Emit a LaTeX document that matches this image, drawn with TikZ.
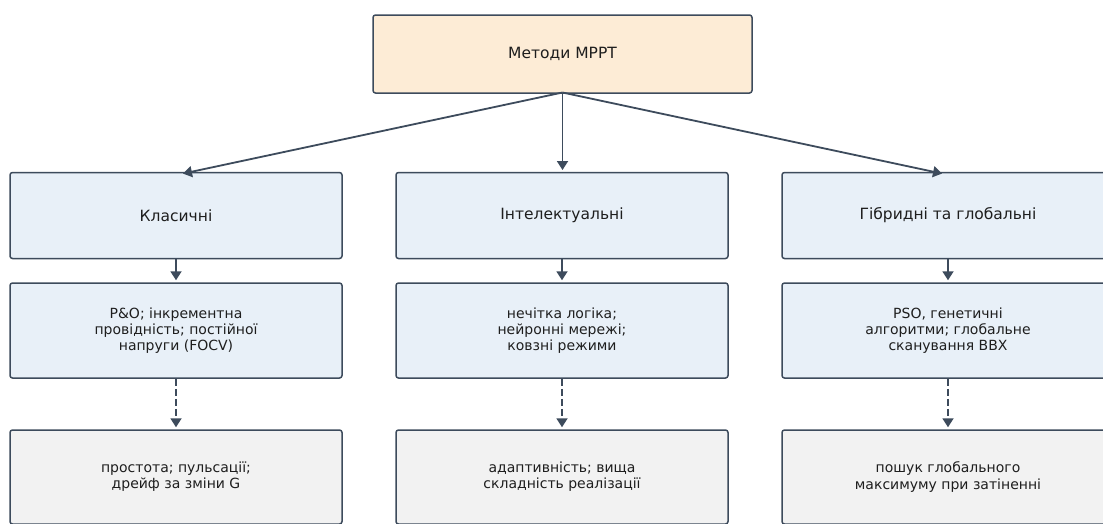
\documentclass[tikz,border=0pt]{standalone}
\usepackage{fontspec}
\setmainfont{DejaVu Sans}
\usetikzlibrary{arrows.meta}
\definecolor{edgec}{HTML}{3D4B5C}
\definecolor{topfill}{HTML}{FDECD6}
\definecolor{bluefill}{HTML}{E8F0F8}
\definecolor{grayfill}{HTML}{F2F2F2}
\definecolor{txt}{HTML}{1E1E1E}
\tikzset{
  box/.style={draw=edgec, line width=1.5pt, rounded corners=2.5pt, align=center, text=txt, inner sep=0pt},
  topbox/.style={box, fill=topfill, minimum width=379pt, minimum height=78pt, font=\fontsize{15.5}{18}\selectfont},
  headbox/.style={box, fill=bluefill, minimum width=332pt, minimum height=86pt, font=\fontsize{15.5}{18}\selectfont},
  midbox/.style={box, fill=bluefill, minimum width=332pt, minimum height=95pt, font=\fontsize{14}{16.2}\selectfont},
  botbox/.style={box, fill=grayfill, minimum width=332pt, minimum height=94pt, font=\fontsize{14}{16.2}\selectfont},
  conn/.style={draw=edgec, line width=1.8pt, shorten >=2pt, -{Triangle[length=9pt,width=11pt]}},
  dconn/.style={conn, dash pattern=on 7pt off 3pt},
}
\begin{document}
\begin{tikzpicture}[x=1pt,y=-1pt]
\useasboundingbox (0,0) rectangle (1103,523);
\clip (0,0) rectangle (1103,523);
\fill[white] (0,0) rectangle (1103,523);
\node[topbox] (top) at (562.5,54) {Методи MPPT};
\node[headbox] (h1) at (176,215.5) {Класичні};
\node[headbox] (h2) at (562,215.5) {Інтелектуальні};
\node[headbox] (h3) at (948,215.5) {Гібридні та глобальні};
\node[midbox] (m1) at (176,330.5) {P\&O; інкрементна\\провідність; постійної\\напруги (FOCV)};
\node[midbox] (m2) at (562,330.5) {нечітка логіка;\\нейронні мережі;\\ковзні режими};
\node[midbox] (m3) at (948,330.5) {PSO, генетичні\\алгоритми; глобальне\\сканування ВВХ};
\node[botbox] (b1) at (176,477) {простота; пульсації;\\дрейф за зміни G};
\node[botbox] (b2) at (562,477) {адаптивність; вища\\складність реалізації};
\node[botbox] (b3) at (948,477) {пошук глобального\\максимуму при затіненні};
\coordinate (src) at (562.5,92.5);
\coordinate (t1) at (181,174);
\coordinate (t2) at (562.5,172);
\coordinate (t3) at (944,174);
\draw[conn] (src) -- (t1);
\draw[conn] (src) -- (t2);
\draw[conn] (src) -- (t3);
\draw[conn] (h1.south) -- (m1.north);
\draw[conn] (h2.south) -- (m2.north);
\draw[conn] (h3.south) -- (m3.north);
\draw[dconn] (m1.south) -- (b1.north);
\draw[dconn] (m2.south) -- (b2.north);
\draw[dconn] (m3.south) -- (b3.north);
\end{tikzpicture}
\end{document}
